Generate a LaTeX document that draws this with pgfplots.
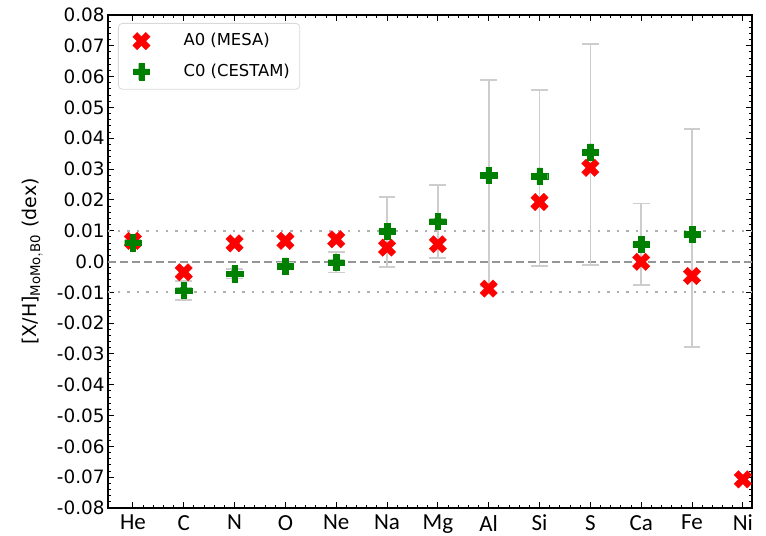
\documentclass[border=0pt]{standalone}
\usepackage{fontspec}
\setmainfont{DejaVu Sans}
\newfontfamily\carlito{Carlito}
\usepackage{pgfplots}
\usepackage{pgfplotstable}
\pgfplotsset{compat=1.18}

\pgfdeclareplotmark{Pfill}{%
  \pgfpathmoveto{\pgfpoint{-0.333\pgfplotmarksize}{-\pgfplotmarksize}}%
  \pgfpathlineto{\pgfpoint{0.333\pgfplotmarksize}{-\pgfplotmarksize}}%
  \pgfpathlineto{\pgfpoint{0.333\pgfplotmarksize}{-0.333\pgfplotmarksize}}%
  \pgfpathlineto{\pgfpoint{\pgfplotmarksize}{-0.333\pgfplotmarksize}}%
  \pgfpathlineto{\pgfpoint{\pgfplotmarksize}{0.333\pgfplotmarksize}}%
  \pgfpathlineto{\pgfpoint{0.333\pgfplotmarksize}{0.333\pgfplotmarksize}}%
  \pgfpathlineto{\pgfpoint{0.333\pgfplotmarksize}{\pgfplotmarksize}}%
  \pgfpathlineto{\pgfpoint{-0.333\pgfplotmarksize}{\pgfplotmarksize}}%
  \pgfpathlineto{\pgfpoint{-0.333\pgfplotmarksize}{0.333\pgfplotmarksize}}%
  \pgfpathlineto{\pgfpoint{-\pgfplotmarksize}{0.333\pgfplotmarksize}}%
  \pgfpathlineto{\pgfpoint{-\pgfplotmarksize}{-0.333\pgfplotmarksize}}%
  \pgfpathlineto{\pgfpoint{-0.333\pgfplotmarksize}{-0.333\pgfplotmarksize}}%
  \pgfpathclose
  \pgfusepathqfillstroke
}
\pgfdeclareplotmark{Xfill}{%
  \pgftransformrotate{45}%
  \pgfuseplotmark{Pfill}%
}

\pgfplotstableread{
x y ep em
0 0.0061 0.0010 0.0010
1 -0.0094 0.0030 0.0031
2 -0.0040 0.0015 0.0015
3 -0.0015 0.0010 0.0010
4 -0.0003 0.0033 0.0033
5 0.0097 0.0112 0.0115
6 0.0130 0.0118 0.0118
7 0.0280 0.0310 0.0360
8 0.0277 0.0279 0.0292
9 0.0355 0.0350 0.0366
10 0.0056 0.0132 0.0132
11 0.0088 0.0341 0.0366
}\errtable

\pgfplotstableread{
x y
0 0.0067
1 -0.0035
2 0.0059
3 0.0067
4 0.0072
5 0.0045
6 0.0056
7 -0.0088
8 0.0193
9 0.0304
10 -0.0001
11 -0.0047
12 -0.0707
}\mesa

\pgfplotstableread{
x y
0 0.0061
1 -0.0094
2 -0.0040
3 -0.0015
4 -0.0003
5 0.0098
6 0.0130
7 0.0280
8 0.0277
9 0.0355
10 0.0056
11 0.0088
}\cestam

\definecolor{mgreen}{RGB}{0,128,0}
\definecolor{errgray}{RGB}{205,205,205}
\definecolor{refgray}{RGB}{150,150,150}
\definecolor{dotgray}{RGB}{175,175,175}

\begin{document}
\begin{tikzpicture}
\begin{axis}[
  name=ax,
  scale only axis,
  width=322pt, height=246.5pt,
  xmin=-0.49, xmax=12.18,
  ymin=-0.08, ymax=0.08,
  xtick={0,...,12},
  xticklabels={He,C,N,O,Ne,Na,Mg,Al,Si,S,Ca,Fe,Ni},
  minor x tick num=4,
  ytick={-0.08,-0.07,-0.06,-0.05,-0.04,-0.03,-0.02,-0.01,0,0.01,0.02,0.03,0.04,0.05,0.06,0.07,0.08},
  yticklabels={-0.08,-0.07,-0.06,-0.05,-0.04,-0.03,-0.02,-0.01,0.0,0.01,0.02,0.03,0.04,0.05,0.06,0.07,0.08},
  minor y tick num=4,
  tick align=inside,
  major tick length=3pt,
  minor tick length=1.5pt,
  every tick/.style={black, line width=0.5pt},
  axis line style={line width=0.75pt},
  yticklabel style={font=\fontsize{9.2}{11}\selectfont, inner sep=1.5pt},
  xticklabel style={font=\carlito\fontsize{11.5}{13}\selectfont},
  ylabel={[X/H]$_{\mathrm{MoMo,B0}}$ (dex)},
  ylabel style={font=\fontsize{9.5}{11}\selectfont, yshift=2pt},
  legend style={at={(0,1)}, anchor=north west, xshift=5pt, yshift=-4pt,
    draw=black!15, rounded corners=2pt, font=\fontsize{8.2}{10}\selectfont,
    row sep=3.5pt, inner xsep=3pt, inner ysep=3pt},
  legend cell align=left,
  legend image code/.code={\path[draw=none,fill=none] (0,0) -- (0.97cm,0); \draw[#1] plot coordinates {(0.3cm,0cm)};},
  clip=false,
]
\addplot[dotgray, line width=1.1pt, dash pattern=on 1.2pt off 3.6pt, forget plot] coordinates {(-0.49,0.01) (12.18,0.01)};
\addplot[dotgray, line width=1.1pt, dash pattern=on 1.2pt off 3.6pt, forget plot] coordinates {(-0.49,-0.01) (12.18,-0.01)};
\addplot[refgray, line width=1pt, dash pattern=on 4pt off 2pt, forget plot] coordinates {(-0.49,0) (12.18,0)};
\addplot[only marks, mark=none, forget plot,
  error bars/.cd, y dir=both, y explicit,
  error bar style={draw=errgray, line width=0.85pt, solid},
  error mark options={draw=errgray, line width=0.85pt, mark size=4.2pt, rotate=90}]
  table[x=x, y=y, y error plus=ep, y error minus=em] {\errtable};
\addplot[only marks, mark=Xfill, mark size=4.6pt, mark options={fill=red, draw=red, line width=0.2pt}]
  table[x=x, y=y] {\mesa};
\addlegendentry{A0 (MESA)}
\addplot[only marks, mark=Pfill, mark size=4.1pt, mark options={fill=mgreen, draw=mgreen, line width=0.2pt}]
  table[x=x, y=y] {\cestam};
\addlegendentry{C0 (CESTAM)}
\end{axis}
\pgfresetboundingbox
\path[use as bounding box] ([xshift=-54pt,yshift=-13.5pt]ax.south west) rectangle ([xshift=7pt,yshift=7.5pt]ax.north east);
\end{tikzpicture}
\end{document}
